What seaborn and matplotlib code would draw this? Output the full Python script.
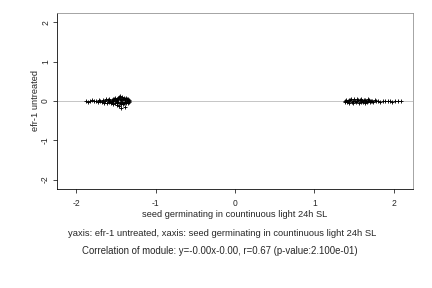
import matplotlib
matplotlib.use("Agg")
from matplotlib import pyplot as plt
import seaborn as sns
import pandas as pd

# left cluster (x, y)
lx = [-1.88,-1.85,-1.82,-1.80,-1.77,-1.75,-1.73,-1.71,-1.70,-1.68,
      -1.66,-1.65,-1.63,-1.62,-1.61,-1.60,-1.59,-1.58,-1.57,-1.56,
      -1.55,-1.55,-1.54,-1.53,-1.53,-1.52,-1.51,-1.51,-1.50,-1.50,
      -1.49,-1.49,-1.48,-1.48,-1.47,-1.47,-1.46,-1.46,-1.45,-1.45,
      -1.45,-1.44,-1.44,-1.43,-1.43,-1.42,-1.42,-1.41,-1.41,-1.40,
      -1.40,-1.39,-1.39,-1.38,-1.38,-1.37,-1.37,-1.36,-1.36,-1.35,
      -1.35,-1.34,-1.34,-1.33]
ly = [0.01,-0.02,0.00,0.02,-0.01,0.01,-0.03,0.02,0.00,-0.02,
      0.03,-0.04,0.01,0.04,-0.05,0.02,-0.03,0.05,0.00,-0.06,
      0.03,-0.02,0.06,-0.08,0.01,0.04,-0.04,0.07,-0.01,0.03,
      -0.10,0.05,0.02,-0.06,0.08,-0.03,0.10,-0.12,0.04,-0.05,
      0.12,0.06,-0.18,0.03,-0.07,0.09,-0.02,0.05,-0.09,0.07,
      -0.04,0.02,-0.15,0.06,-0.03,0.08,-0.06,0.04,-0.01,0.05,
      -0.05,0.03,-0.02,0.01]

# right cluster (x, y)
rx = [1.38,1.39,1.40,1.41,1.42,1.43,1.44,1.45,1.46,1.47,
      1.48,1.49,1.50,1.51,1.52,1.53,1.54,1.55,1.56,1.57,
      1.58,1.59,1.60,1.61,1.62,1.63,1.64,1.65,1.66,1.67,
      1.68,1.69,1.70,1.71,1.72,1.74,1.76,1.78,1.80,1.83,
      1.86,1.89,1.92,1.95,1.98,2.01,2.05,2.09]
ry = [0.00,-0.02,0.02,-0.03,0.01,0.03,-0.04,0.02,0.05,-0.02,
      0.01,-0.05,0.04,0.00,-0.03,0.06,-0.01,0.03,-0.04,0.02,
      -0.02,0.04,0.00,-0.03,0.02,-0.05,0.03,0.01,-0.02,0.04,
      -0.01,0.02,-0.03,0.01,0.00,-0.02,0.02,-0.01,0.01,-0.02,
      0.00,0.01,-0.01,0.00,-0.02,0.01,-0.01,0.00]

slope, intercept = -0.00, -0.00
ticks = [-2, -1, 0, 1, 2]

df = pd.DataFrame({"x": lx + rx, "y": ly + ry})

sns.set_style("white")
plt.rcParams['font.family'] = ['Liberation Sans', 'DejaVu Sans']

fig = plt.figure(figsize=(6, 4), dpi=72)
ax = fig.add_axes([0.132, 0.344, 0.824, 0.611])

ax.axhline(intercept, color="#c0c0c0", lw=0.9, zorder=1)
sns.scatterplot(data=df, x="x", y="y", marker="+", color="black", s=22,
                linewidth=0.9, ax=ax, zorder=2)

ax.set_xlim(-2.24, 2.24)
ax.set_ylim(-2.24, 2.24)
ax.set_xticks(ticks)
ax.set_yticks(ticks)
ax.set_xticklabels([str(t) for t in ticks], fontsize=8.5)
ax.set_yticklabels([str(t) for t in ticks], fontsize=8.5, rotation=90, va="center")
ax.tick_params(bottom=True, left=True, direction="out", length=4, width=0.7,
               color="black")
ax.tick_params(axis="x", pad=6)
ax.tick_params(axis="y", pad=3)
ax.set_xlabel("seed germinating in countinuous light 24h SL", fontsize=9.2, labelpad=2)
ax.set_ylabel("efr-1 untreated", fontsize=9.2, labelpad=1)

for side in ["left", "bottom"]:
    ax.spines[side].set_color("black")
    ax.spines[side].set_linewidth(0.8)
for side in ["top", "right"]:
    ax.spines[side].set_color("#909090")
    ax.spines[side].set_linewidth(0.8)

fig.text(0.515, 1 - 233 / 288, "yaxis: efr-1 untreated, xaxis: seed germinating in countinuous light 24h SL",
         ha="center", va="center", fontsize=9.4)
fig.text(0.508, 1 - 251 / 288, "Correlation of module: y=-0.00x-0.00, r=0.67 (p-value:2.100e-01)",
         ha="center", va="center", fontsize=9.6)

fig.savefig("out.png", dpi=72)
